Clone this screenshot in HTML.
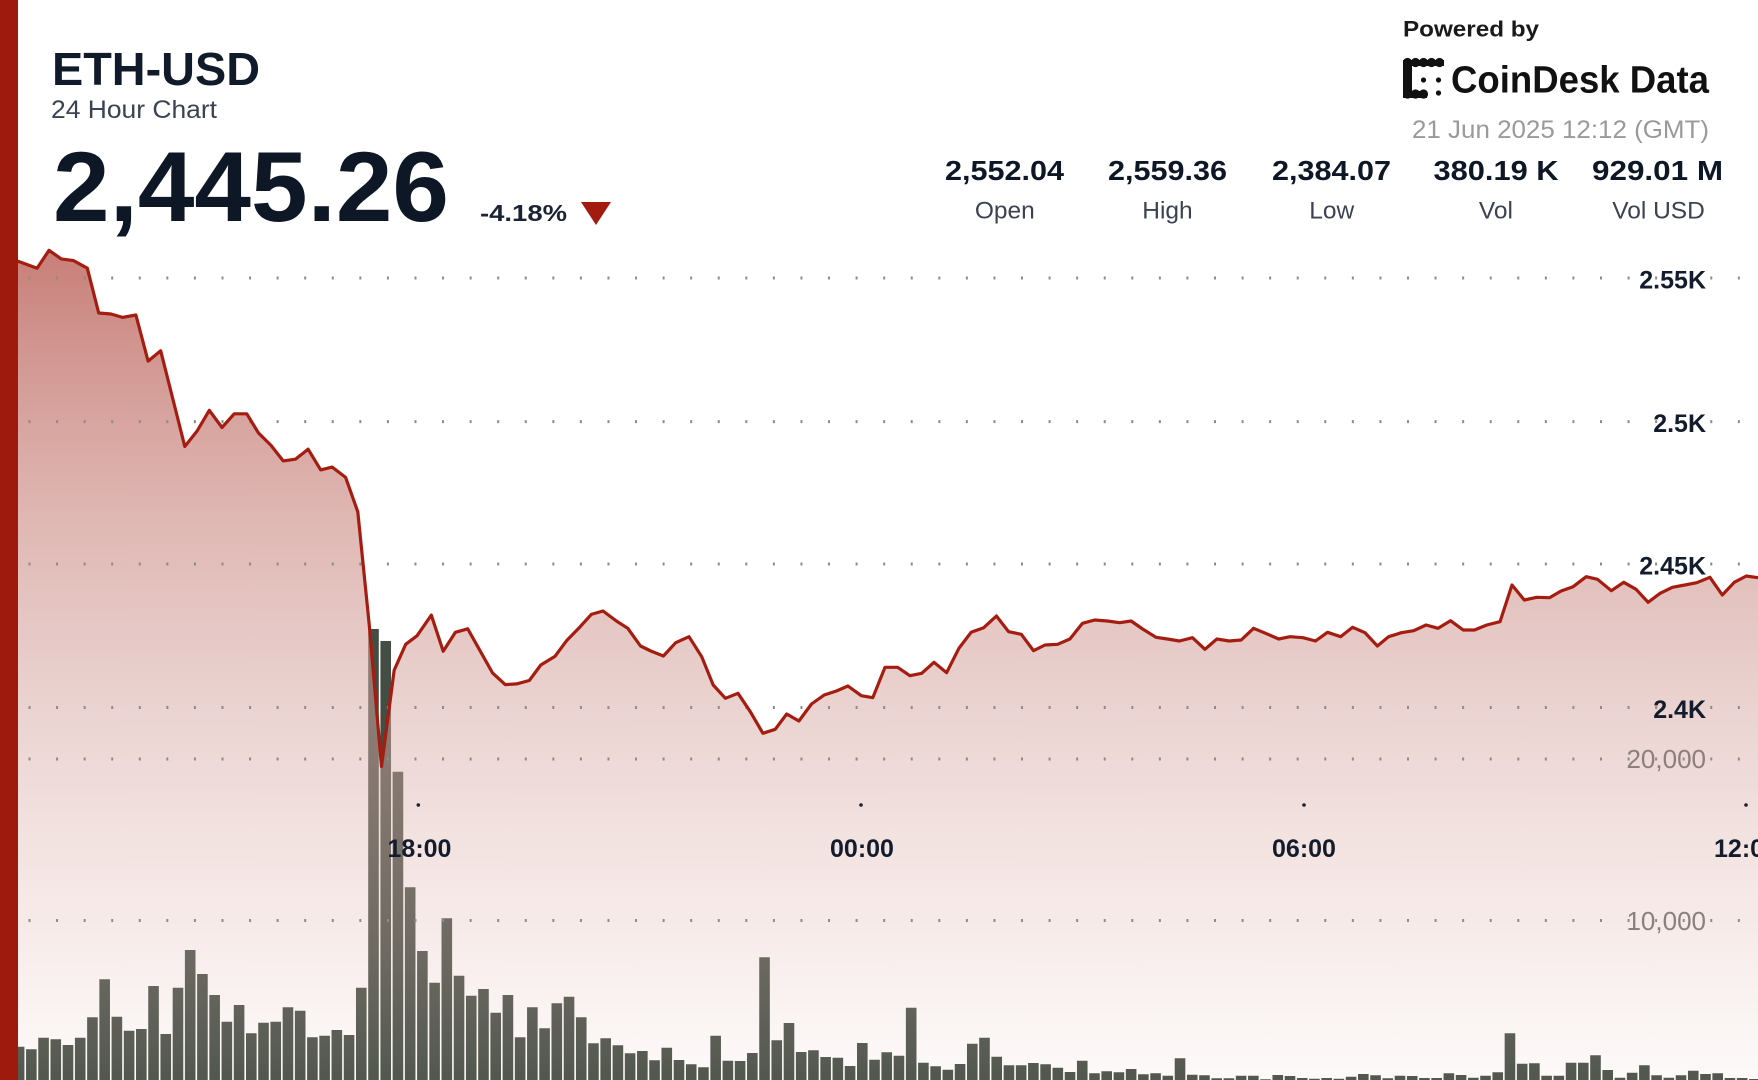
<!DOCTYPE html>
<html>
<head>
<meta charset="utf-8">
<style>
html,body{margin:0;padding:0;background:#ffffff;width:1758px;height:1080px;overflow:hidden;}
svg{display:block;font-family:"Liberation Sans",Arial,sans-serif;}
</style>
</head>
<body>
<svg width="1758" height="1080" viewBox="0 0 1758 1080" xmlns="http://www.w3.org/2000/svg">
<defs>
<linearGradient id="ag" gradientUnits="userSpaceOnUse" x1="0" y1="250" x2="0" y2="1080">
<stop offset="0" stop-color="rgb(185,90,82)" stop-opacity="0.78"/>
<stop offset="0.277" stop-color="rgb(200,130,123)" stop-opacity="0.63"/>
<stop offset="0.566" stop-color="rgb(215,170,165)" stop-opacity="0.5"/>
<stop offset="0.847" stop-color="rgb(227,187,182)" stop-opacity="0.26"/>
<stop offset="1" stop-color="rgb(232,195,190)" stop-opacity="0.09"/>
</linearGradient>
</defs>
<rect x="0" y="0" width="1758" height="1080" fill="#ffffff"/>

<!-- volume bars -->
<path fill="#434d43" d="M1.6 1082V1050h10.6V1082zm12.22 0V1046.7h10.6V1082zm12.22 0V1049.3h10.6V1082zm12.22 0V1037.7h10.6V1082zm12.22 0V1039.3h10.6V1082zm12.22 0V1045h10.6V1082zm12.22 0V1037.7h10.6V1082zm12.22 0V1017.3h10.6V1082zm12.22 0V979.3h10.6V1082zm12.22 0V1016.7h10.6V1082zm12.22 0V1030.7h10.6V1082zm12.22 0V1029h10.6V1082zm12.22 0V986h10.6V1082zm12.22 0V1034h10.6V1082zm12.22 0V987.7h10.6V1082zm12.22 0V950h10.6V1082zm12.22 0V974h10.6V1082zm12.22 0V995h10.6V1082zm12.22 0V1021.7h10.6V1082zm12.22 0V1005h10.6V1082zm12.22 0V1033.3h10.6V1082zm12.22 0V1022.7h10.6V1082zm12.22 0V1021.7h10.6V1082zm12.22 0V1007.3h10.6V1082zm12.22 0V1010.7h10.6V1082zm12.22 0V1037.3h10.6V1082zm12.22 0V1035.7h10.6V1082zm12.22 0V1030h10.6V1082zm12.22 0V1035h10.6V1082zm12.22 0V987.7h10.6V1082zm12.22 0V629h10.6V1082zm12.22 0V641h10.6V1082zm12.22 0V771.7h10.6V1082zm12.22 0V887.3h10.6V1082zm12.22 0V951h10.6V1082zm12.22 0V982.7h10.6V1082zm12.22 0V918.3h10.6V1082zm12.22 0V975.7h10.6V1082zm12.22 0V995.7h10.6V1082zm12.22 0V989h10.6V1082zm12.22 0V1012.7h10.6V1082zm12.22 0V995h10.6V1082zm12.22 0V1037.3h10.6V1082zm12.22 0V1007.3h10.6V1082zm12.22 0V1028.3h10.6V1082zm12.22 0V1003.3h10.6V1082zm12.22 0V996.7h10.6V1082zm12.22 0V1017.3h10.6V1082zm12.22 0V1043.3h10.6V1082zm12.22 0V1038.3h10.6V1082zm12.22 0V1045.3h10.6V1082zm12.22 0V1053.3h10.6V1082zm12.22 0V1051h10.6V1082zm12.22 0V1060.3h10.6V1082zm12.22 0V1047.7h10.6V1082zm12.22 0V1060h10.6V1082zm12.22 0V1064.3h10.6V1082zm12.22 0V1067.3h10.6V1082zm12.22 0V1035.7h10.6V1082zm12.22 0V1060.7h10.6V1082zm12.22 0V1061h10.6V1082zm12.22 0V1053h10.6V1082zm12.22 0V957.3h10.6V1082zm12.22 0V1040.3h10.6V1082zm12.22 0V1023h10.6V1082zm12.22 0V1052h10.6V1082zm12.22 0V1050.3h10.6V1082zm12.22 0V1057h10.6V1082zm12.22 0V1057.7h10.6V1082zm12.22 0V1066h10.6V1082zm12.22 0V1043h10.6V1082zm12.22 0V1059.7h10.6V1082zm12.22 0V1052.3h10.6V1082zm12.22 0V1055.7h10.6V1082zm12.22 0V1007.7h10.6V1082zm12.22 0V1062.7h10.6V1082zm12.22 0V1066.3h10.6V1082zm12.22 0V1069.7h10.6V1082zm12.22 0V1064h10.6V1082zm12.22 0V1043.7h10.6V1082zm12.22 0V1037.7h10.6V1082zm12.22 0V1056.7h10.6V1082zm12.22 0V1065.3h10.6V1082zm12.22 0V1065.3h10.6V1082zm12.22 0V1063h10.6V1082zm12.22 0V1064.3h10.6V1082zm12.22 0V1067.7h10.6V1082zm12.22 0V1072h10.6V1082zm12.22 0V1060.7h10.6V1082zm12.22 0V1073.3h10.6V1082zm12.22 0V1071.3h10.6V1082zm12.22 0V1072.3h10.6V1082zm12.22 0V1069h10.6V1082zm12.22 0V1074.3h10.6V1082zm12.22 0V1073.3h10.6V1082zm12.22 0V1075.7h10.6V1082zm12.22 0V1058.3h10.6V1082zm12.22 0V1074.7h10.6V1082zm12.22 0V1075.3h10.6V1082zm12.22 0V1078.3h10.6V1082zm12.22 0V1078.3h10.6V1082zm12.22 0V1075.7h10.6V1082zm12.22 0V1075.7h10.6V1082zm12.22 0V1079.3h10.6V1082zm12.22 0V1075h10.6V1082zm12.22 0V1076h10.6V1082zm12.22 0V1078h10.6V1082zm12.22 0V1078.7h10.6V1082zm12.22 0V1078h10.6V1082zm12.22 0V1078.7h10.6V1082zm12.22 0V1076.7h10.6V1082zm12.22 0V1074h10.6V1082zm12.22 0V1075.3h10.6V1082zm12.22 0V1078.3h10.6V1082zm12.22 0V1075.7h10.6V1082zm12.22 0V1076h10.6V1082zm12.22 0V1078h10.6V1082zm12.22 0V1078h10.6V1082zm12.22 0V1073.3h10.6V1082zm12.22 0V1075h10.6V1082zm12.22 0V1077.7h10.6V1082zm12.22 0V1075.7h10.6V1082zm12.22 0V1072.3h10.6V1082zm12.22 0V1033.3h10.6V1082zm12.22 0V1063.7h10.6V1082zm12.22 0V1063.3h10.6V1082zm12.22 0V1075.7h10.6V1082zm12.22 0V1075.7h10.6V1082zm12.22 0V1062.7h10.6V1082zm12.22 0V1062.7h10.6V1082zm12.22 0V1055.3h10.6V1082zm12.22 0V1070h10.6V1082zm12.22 0V1077.7h10.6V1082zm12.22 0V1072.7h10.6V1082zm12.22 0V1065.3h10.6V1082zm12.22 0V1075.3h10.6V1082zm12.22 0V1077.7h10.6V1082zm12.22 0V1075.3h10.6V1082zm12.22 0V1070.7h10.6V1082zm12.22 0V1074h10.6V1082zm12.22 0V1073.3h10.6V1082zm12.22 0V1078h10.6V1082zm12.22 0V1078h10.6V1082zm12.22 0V1079h10.6V1082z"/>

<!-- area -->
<path fill="url(#ag)" d="M0 262 L18 261.3 L37.1 268.2 L49 250.3 L61.2 258.9 L73.5 260.6 L87.3 268.2 L98.7 313 L111 314 L122.5 317.4 L135.9 315 L148.1 361.1 L160.7 350.8 L184.8 446.5 L197.1 431 L209.3 410.3 L222 427.5 L234.2 413.8 L246.8 413.8 L258.3 432.7 L271 445.4 L283.2 460.9 L295.4 459.2 L308.1 449.2 L320.7 469.9 L332.2 467.1 L345.6 477.4 L357.8 511.8 L369.3 625.4 L381.5 766.5 L394.2 670.1 L405.7 644.3 L417.1 635.7 L431.3 615.1 L443.2 651.2 L455.4 632.3 L467.7 628.8 L480.3 651.2 L492.5 672.9 L505.2 684.6 L516.6 683.9 L529.3 680.5 L540.8 665 L554.9 656.4 L566.4 640.9 L579.8 627.1 L591.3 614.4 L603 611 L616.4 621 L627.8 628.3 L640.5 646 L650.8 651 L663.4 656 L675.7 642.7 L689 636.7 L701.7 656.7 L713.2 685 L725.4 698.3 L738 693.3 L750.3 711.7 L762.9 733.3 L775.2 729.3 L786.7 714 L798.9 721 L811.5 704 L824.2 695 L836.4 691 L847.9 686 L861.3 695.7 L872.8 697.7 L885 667.3 L897.6 667.3 L909.9 675.7 L921.7 673.3 L934 662.3 L946.6 672.7 L958.9 648.3 L971.1 632.3 L983.7 627.7 L996.4 616 L1008.6 631.7 L1021.3 634.3 L1033.5 650.7 L1045 645 L1057.6 644.3 L1069.9 639 L1082.5 623.3 L1094.7 620 L1107.4 621 L1119.6 622.7 L1131.1 621 L1142.6 629 L1156 637.3 L1167.4 639 L1179.4 641 L1192.5 637.7 L1204.9 649.3 L1216.9 639 L1229.2 641 L1241.2 640 L1253.6 628.3 L1265.6 633.3 L1278.7 639 L1290 636.7 L1303.1 637.7 L1315.5 641 L1327.5 632.3 L1340.6 636.7 L1352.6 627.3 L1365 632.7 L1377.4 646 L1388.6 636.7 L1401.4 632.7 L1413.7 630.7 L1426.1 625 L1438.1 628.3 L1450.5 620.7 L1463.2 630 L1474.5 630 L1486.8 625 L1500 621.7 L1512 585 L1524.3 600 L1536.7 597.3 L1549.5 597.7 L1561.1 591 L1573.1 586.7 L1586.2 576.7 L1597.5 579.3 L1611.3 590.7 L1623.7 582.3 L1636.1 589.3 L1648.1 602.3 L1660.1 593.3 L1672.4 587.3 L1684.8 585 L1696.8 582.7 L1709.9 577.3 L1722.3 595 L1734.3 582.3 L1746.3 576 L1758 577.7 L1758 1080 L0 1080 Z"/>

<!-- dotted grid -->
<g stroke="#8c8c8c" stroke-width="3" stroke-dasharray="2 25.57">
<line x1="28.5" y1="278" x2="1758" y2="278"/>
<line x1="28.5" y1="421.6" x2="1758" y2="421.6"/>
<line x1="28.5" y1="564" x2="1758" y2="564"/>
<line x1="28.5" y1="707.5" x2="1758" y2="707.5"/>
<line x1="28.5" y1="759" x2="1758" y2="759"/>
<line x1="28.5" y1="920.5" x2="1758" y2="920.5"/>
</g>

<!-- price line -->
<polyline fill="none" stroke="#a51d11" stroke-width="3.2" stroke-linejoin="round" points="0,262 18,261.3 37.1,268.2 49,250.3 61.2,258.9 73.5,260.6 87.3,268.2 98.7,313 111,314 122.5,317.4 135.9,315 148.1,361.1 160.7,350.8 184.8,446.5 197.1,431 209.3,410.3 222,427.5 234.2,413.8 246.8,413.8 258.3,432.7 271,445.4 283.2,460.9 295.4,459.2 308.1,449.2 320.7,469.9 332.2,467.1 345.6,477.4 357.8,511.8 369.3,625.4 381.5,766.5 394.2,670.1 405.7,644.3 417.1,635.7 431.3,615.1 443.2,651.2 455.4,632.3 467.7,628.8 480.3,651.2 492.5,672.9 505.2,684.6 516.6,683.9 529.3,680.5 540.8,665 554.9,656.4 566.4,640.9 579.8,627.1 591.3,614.4 603,611 616.4,621 627.8,628.3 640.5,646 650.8,651 663.4,656 675.7,642.7 689,636.7 701.7,656.7 713.2,685 725.4,698.3 738,693.3 750.3,711.7 762.9,733.3 775.2,729.3 786.7,714 798.9,721 811.5,704 824.2,695 836.4,691 847.9,686 861.3,695.7 872.8,697.7 885,667.3 897.6,667.3 909.9,675.7 921.7,673.3 934,662.3 946.6,672.7 958.9,648.3 971.1,632.3 983.7,627.7 996.4,616 1008.6,631.7 1021.3,634.3 1033.5,650.7 1045,645 1057.6,644.3 1069.9,639 1082.5,623.3 1094.7,620 1107.4,621 1119.6,622.7 1131.1,621 1142.6,629 1156,637.3 1167.4,639 1179.4,641 1192.5,637.7 1204.9,649.3 1216.9,639 1229.2,641 1241.2,640 1253.6,628.3 1265.6,633.3 1278.7,639 1290,636.7 1303.1,637.7 1315.5,641 1327.5,632.3 1340.6,636.7 1352.6,627.3 1365,632.7 1377.4,646 1388.6,636.7 1401.4,632.7 1413.7,630.7 1426.1,625 1438.1,628.3 1450.5,620.7 1463.2,630 1474.5,630 1486.8,625 1500,621.7 1512,585 1524.3,600 1536.7,597.3 1549.5,597.7 1561.1,591 1573.1,586.7 1586.2,576.7 1597.5,579.3 1611.3,590.7 1623.7,582.3 1636.1,589.3 1648.1,602.3 1660.1,593.3 1672.4,587.3 1684.8,585 1696.8,582.7 1709.9,577.3 1722.3,595 1734.3,582.3 1746.3,576 1758,577.7"/>

<!-- y axis labels -->
<g font-size="25" font-weight="bold" fill="#121c2c" text-anchor="end">
<text x="1706" y="288.5">2.55K</text>
<text x="1706" y="432">2.5K</text>
<text x="1706" y="574.5">2.45K</text>
<text x="1706" y="718">2.4K</text>
</g>
<g font-size="26" fill="#8a7f7b" text-anchor="end">
<text x="1706" y="768">20,000</text>
<text x="1706" y="930">10,000</text>
</g>

<!-- x ticks and labels -->
<g fill="#1a2230">
<circle cx="418.3" cy="805" r="1.8"/>
<circle cx="861" cy="805" r="1.8"/>
<circle cx="1304" cy="805" r="1.8"/>
<circle cx="1746" cy="805" r="1.8"/>
</g>
<g font-size="25" font-weight="bold" fill="#121c2c" text-anchor="middle">
<text x="419.5" y="857">18:00</text>
<text x="862" y="857">00:00</text>
<text x="1304" y="857">06:00</text>
<text x="1746" y="857">12:00</text>
</g>

<!-- left red bar -->
<rect x="0" y="0" width="18" height="1080" fill="#9e1a0c"/>

<!-- header left -->
<text x="52" y="85" font-size="46" font-weight="bold" fill="#101a2a" textLength="208" lengthAdjust="spacingAndGlyphs">ETH-USD</text>
<text x="51" y="118" font-size="25" fill="#3b4250" textLength="166" lengthAdjust="spacingAndGlyphs">24 Hour Chart</text>
<text x="53" y="221" font-size="99" font-weight="bold" fill="#0e1726" textLength="396" lengthAdjust="spacingAndGlyphs">2,445.26</text>
<text x="480" y="221" font-size="23" font-weight="bold" fill="#1c2433" textLength="87" lengthAdjust="spacingAndGlyphs">-4.18%</text>
<polygon points="581,202 611,202 596,225" fill="#a31b0f"/>

<!-- header right -->
<text x="1403" y="36.5" font-size="22" font-weight="bold" fill="#1a1a1a" textLength="136" lengthAdjust="spacingAndGlyphs">Powered by</text>
<g fill="#111111">
<circle cx="1407.5" cy="62.5" r="4.6"/><circle cx="1415.5" cy="62.5" r="4.6"/><circle cx="1423.5" cy="62.5" r="4.6"/><circle cx="1431.5" cy="62.5" r="4.6"/><circle cx="1439.5" cy="62.5" r="4.6"/>
<circle cx="1407.5" cy="70.5" r="4.6"/><circle cx="1407.5" cy="78.5" r="4.6"/><circle cx="1407.5" cy="86.5" r="4.6"/><circle cx="1407.5" cy="94" r="4.6"/>
<circle cx="1415.5" cy="94" r="4.6"/><circle cx="1423.5" cy="94" r="4.6"/>
<rect x="1403" y="60" width="41" height="6"/>
<rect x="1403" y="60" width="9" height="38"/>
<rect x="1403" y="91" width="24" height="7"/>
<circle cx="1423.5" cy="80" r="2.6"/><circle cx="1438.5" cy="80" r="2.6"/><circle cx="1438.5" cy="93" r="2.6"/>
</g>
<text x="1451" y="92.5" font-size="38" font-weight="bold" fill="#111111" textLength="258" lengthAdjust="spacingAndGlyphs">CoinDesk Data</text>
<text x="1412" y="138" font-size="25" fill="#9a9a9a" textLength="297" lengthAdjust="spacingAndGlyphs">21 Jun 2025 12:12 (GMT)</text>

<g font-size="28" font-weight="bold" fill="#0e1726">
<text x="945" y="180" textLength="119" lengthAdjust="spacingAndGlyphs">2,552.04</text>
<text x="1108" y="180" textLength="119" lengthAdjust="spacingAndGlyphs">2,559.36</text>
<text x="1272" y="180" textLength="119" lengthAdjust="spacingAndGlyphs">2,384.07</text>
<text x="1433.5" y="180" textLength="125" lengthAdjust="spacingAndGlyphs">380.19 K</text>
<text x="1592" y="180" textLength="131" lengthAdjust="spacingAndGlyphs">929.01 M</text>
</g>
<g font-size="24.5" fill="#3b4250" text-anchor="middle">
<text x="1004.8" y="218.5">Open</text>
<text x="1167.5" y="218.5">High</text>
<text x="1331.7" y="218.5">Low</text>
<text x="1495.9" y="218.5">Vol</text>
<text x="1658.5" y="218.5">Vol USD</text>
</g>
</svg>
</body>
</html>
